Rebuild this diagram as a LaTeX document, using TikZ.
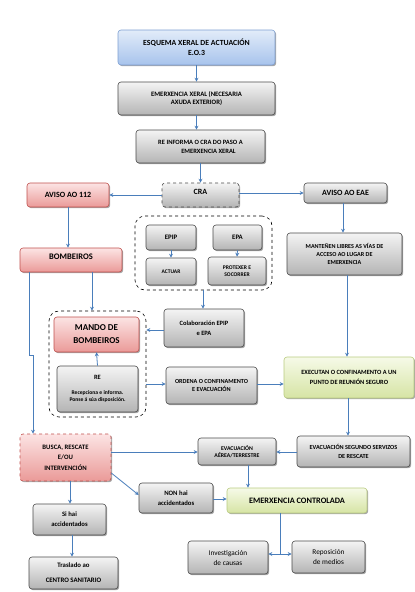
\documentclass[tikz,border=0pt]{standalone}
\usepackage{fontspec}
\setmainfont{Carlito}
\usetikzlibrary{shadows,arrows.meta,calc}
\definecolor{arrowblue}{HTML}{4A7EBB}
\definecolor{grayA}{HTML}{F4F4F4}
\definecolor{grayB}{HTML}{B4B4B4}
\definecolor{grayD}{HTML}{4A4A4A}
\definecolor{redA}{HTML}{FCE4E4}
\definecolor{redB}{HTML}{EA9A98}
\definecolor{redD}{HTML}{C0504D}
\definecolor{blueA}{HTML}{E2ECF9}
\definecolor{blueB}{HTML}{A7C3EC}
\definecolor{blueD}{HTML}{7D9FD2}
\definecolor{greenA}{HTML}{F6FAE8}
\definecolor{greenB}{HTML}{D6E4A4}
\definecolor{greenD}{HTML}{B9CB80}
\newcommand{\fs}[2]{\fontsize{#1}{#2}\selectfont}
\begin{document}
\begin{tikzpicture}[x=1pt,y=-1pt,
  box/.style={line width=0.6pt, rounded corners=3pt, align=center, inner sep=1pt,
    font=\bfseries\fs{6.5}{8},
    drop shadow={shadow xshift=1.2pt,shadow yshift=-1.2pt,opacity=0.35,fill=black}},
  graybox/.style={box, draw=grayD, top color=grayA, bottom color=grayB},
  redbox/.style={box, draw=redD, top color=redA, bottom color=redB},
  bluebox/.style={box, draw=blueD, top color=blueA, bottom color=blueB},
  greenbox/.style={box, draw=greenD, top color=greenA, bottom color=greenB},
  grp/.style={draw=black, dashed, line width=0.6pt, rounded corners=10pt},
  arr/.style={draw=arrowblue, line width=0.8pt, -{Stealth[length=4pt,width=4pt]}},
  ln/.style={draw=arrowblue, line width=0.8pt},
  sz/.style 2 args={minimum width=#1pt, minimum height=#2pt}
]
\useasboundingbox (0,0) rectangle (415,592);

% groups
\node[grp, sz={137}{74}] (grp1) at (203.5,253) {};
\node[grp, sz={97}{106}] (grp2) at (97.5,364) {};

\node[bluebox, sz={157}{35}, font=\bfseries\fs{7.8}{10}] (title) at (196.5,47.5) {ESQUEMA XERAL DE ACTUACIÓN\\E.O.3};
\node[graybox, sz={157}{33}, font=\bfseries\fs{6.7}{8.5}] (emx) at (196.5,98.5) {EMERXENCIA XERAL (NECESARIA\\AXUDA EXTERIOR)};
\node[graybox, sz={129}{33}, font=\bfseries\fs{6.5}{9}] (reinf) at (200.5,146.5) {RE INFORMA O CRA DO PASO A\\\hspace*{16pt}EMERXENCIA XERAL};
\node[graybox, dashed, sz={77}{24}, font=\bfseries\fs{8}{9}] (cra) at (200.5,195) {CRA\\[-2pt]\mbox{}};
\node[redbox, sz={82}{24}, font=\bfseries\fs{8}{9}] (a112) at (68,195) {AVISO AO 112};
\node[graybox, sz={83}{20}, font=\bfseries\fs{8}{9}] (eae) at (345.5,193) {AVISO AO EAE};

\node[graybox, sz={50}{25}, font=\bfseries\fs{6.8}{8}] (epip) at (171,237.5) {EPIP};
\node[graybox, sz={50}{27}, font=\bfseries\fs{5.5}{7}] (actuar) at (171,271.5) {ACTUAR};
\node[graybox, sz={49}{25}, font=\bfseries\fs{6.8}{8}] (epa) at (237.5,237.5) {EPA};
\node[graybox, sz={58}{28}, font=\bfseries\fs{5.6}{7.5}] (prot) at (237,271) {PROTEXER E\\SOCORRER};

\node[redbox, sz={102}{24}, font=\bfseries\fs{8.5}{9}] (bomb) at (71,260) {BOMBEIROS\\[-3pt]\mbox{}};
\node[graybox, sz={115}{42}, font=\bfseries\fs{6.1}{8}] (mant) at (344.5,254) {MANTEÑEN LIBRES AS VÍAS DE\\ACCESO AO LUGAR DE\\EMERXENCIA};

\node[redbox, sz={85}{35}, font=\bfseries\fs{9}{13}] (mando) at (96.5,334.5) {MANDO DE\\BOMBEIROS};
\node[graybox, sz={81}{46}, font=\bfseries\fs{6.5}{7}] (re) at (97.5,389) {RE\\[8pt]\fs{5.6}{6.2}Recepciona e informa.\\\fs{5.6}{6.2}Ponse á súa disposición.};
\node[graybox, sz={80}{38}, font=\bfseries\fs{6.5}{10}] (colab) at (204,328) {Colaboración EPIP\\e EPA};
\node[graybox, sz={91}{37}, font=\bfseries\fs{6.2}{8.5}] (ordena) at (211.5,385.5) {ORDENA O CONFINAMENTO\\E EVACUACIÓN};
\node[greenbox, sz={130}{41}, font=\bfseries\fs{6.4}{9.5}] (exec) at (349,377.5) {EXECUTAN O CONFINAMENTO A UN\\PUNTO DE REUNIÓN SEGURO};

\node[redbox, dashed, sz={91}{47}, font=\bfseries\fs{6.7}{10.5}] (busca) at (65.5,457.5) {BUSCA, RESCATE\\E/OU\\INTERVENCIÓN};
\node[graybox, sz={73}{31}, font=\bfseries\fs{6.7}{10}] (sihai) at (69.5,519.5) {Si hai\\accidentados};
\node[graybox, sz={89}{32}, font=\bfseries\fs{6.8}{15}] (tras) at (73.5,573) {Traslado ao\\CENTRO SANITARIO};
\node[graybox, sz={78}{27}, font=\bfseries\fs{5.8}{7}] (evaa) at (237,451.5) {EVACUACIÓN\\AÉREA/TERRESTRE};
\node[graybox, sz={113}{31}, font=\bfseries\fs{6.2}{9}] (evas) at (353.5,451.5) {EVACUACIÓN SEGUNDO SERVIZOS\\DE RESCATE};
\node[graybox, sz={74}{30}, font=\bfseries\fs{6.7}{9.5}] (nonhai) at (176,498) {NON hai\\accidentados};
\node[greenbox, sz={140}{25}, font=\bfseries\fs{8.3}{9}] (emc) at (297,500.5) {EMERXENCIA CONTROLADA};
\node[graybox, sz={80}{33}, font=\fs{7.3}{10}] (inv) at (228,557.5) {Investigación\\de causas};
\node[graybox, sz={73}{32}, font=\fs{7.3}{10}] (repo) at (328.5,557) {Reposición\\de medios};

% connectors
\draw[arr] (title.south) -- (emx.north);
\draw[arr] (emx.south) -- (emx.south |- reinf.north);
\draw[arr] (reinf.south) -- (reinf.south |- cra.north);
\draw[arr] (cra.west) -- (a112.east);
\draw[arr] (cra.east |- 0,193) -- (eae.west);
\draw[arr] (a112.south) -- (bomb.north -| a112.south);
\draw[arr] (eae.south -| 343,0) -- (mant.north -| 343,0);
\draw[arr] (epip.south) -- (actuar.north);
\draw[arr] (epa.south) -- (prot.north);
\draw[arr] (grp1.south -| 203,0) -- (colab.north -| 203,0);
\draw[arr] (bomb.south -| 92,0) -- (grp2.north -| 92,0);
\draw[arr] (bomb.south -| 29,0) -- (29,355) -- (33,355) -- (busca.north -| 33,0);
\draw[arr] (colab.west |- 0,330) -- (grp2.east |- 0,330);
\draw[arr] (grp2.east |- 0,384) -- (ordena.west |- 0,384);
\draw[arr] (ordena.east |- 0,384) -- (exec.west |- 0,384);
\draw[arr] (re.north) -- (mando.south);
\draw[arr] (mant.south -| 347,0) -- (exec.north -| 347,0);
\draw[arr] (exec.south -| 348,0) -- (evas.north -| 348,0);
\draw[arr] (evas.west |- 0,452) -- (evaa.east |- 0,452);
\draw[arr] (busca.east |- 0,452) -- (evaa.west |- 0,452);
\draw[arr] (busca.east |- 0,473) -- (nonhai.west |- 0,495);
\draw[arr] (busca.south -| 70,0) -- (sihai.north -| 70,0);
\draw[arr] (sihai.south -| 72,0) -- (tras.north -| 72,0);
\draw[arr] (evaa.south -| 248,0) -- (emc.north -| 248,0);
\draw[arr] (nonhai.east |- 0,499) -- (emc.west |- 0,499);
\coordinate (split) at (280,554);
\draw[ln] (emc.south -| split) -- (split);
\draw[arr] (split) -- (split -| inv.east);
\draw[arr] (split) -- (split -| repo.west);
\end{tikzpicture}
\end{document}
